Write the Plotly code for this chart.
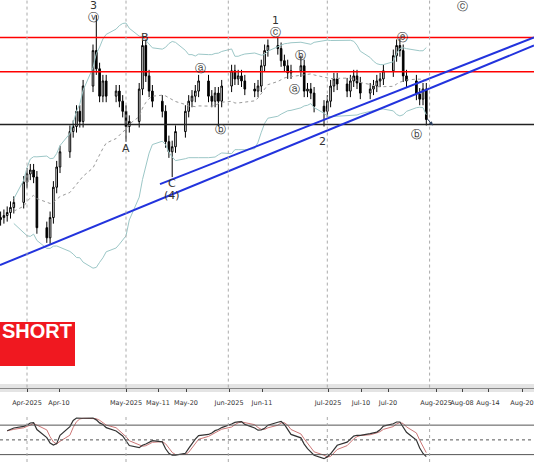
import pandas as pd
import plotly.graph_objects as go
from plotly.subplots import make_subplots

# price scale: price = 120 - pixel_y / 10
dates = pd.bdate_range("2025-03-24", "2025-07-31")
closes = [
    98.5, 98.7, 99.0, 99.5, 100.0,
    102.0, 102.8, 103.2, 102.5, 97.5,
    96.5, 98.5, 101.5, 103.5, 105.0,
    107.0, 107.5, 109.0, 108.0, 111.5,
    115.0, 113.2, 110.5, 112.0, 110.5,
    111.0, 110.0, 109.0, 107.5, 108.0,
    111.2, 115.5, 112.5, 111.0, 110.0,
    109.0, 106.0, 105.0, 105.5, 107.0,
    109.0, 110.0, 110.5, 111.0, 112.0,
    110.5, 110.0, 110.8, 110.0, 111.5,
    113.0, 112.2, 112.5, 112.0, 111.2,
    111.0, 111.5, 113.5, 115.0, 115.5,
    115.2, 114.0, 113.5, 112.8, 113.0,
    113.5, 111.0, 111.2, 110.8, 109.5,
    109.0, 110.0, 111.5, 112.2, 111.7,
    111.0, 112.0, 112.5, 111.8, 110.8,
    111.2, 111.5, 112.0, 112.2, 113.0,
    114.5, 115.5, 115.0, 112.5, 112.0,
    110.7, 110.2, 111.2, 108.2,
]
dates = dates[:len(closes)]
opens = [98.3] + closes[:-1]
highs = [max(o, c) + 0.6 for o, c in zip(opens, closes)]
lows = [min(o, c) - 0.6 for o, c in zip(opens, closes)]
# a few long wicks seen in the picture
wick_high = {"2025-04-22": 118.5, "2025-05-06": 116.0, "2025-06-16": 116.3, "2025-07-23": 116.2,
             "2025-06-23": 114.5}
wick_low = {"2025-04-07": 96.0, "2025-05-01": 106.0, "2025-05-15": 102.5, "2025-05-29": 107.5,
            "2025-06-30": 107.5}
for i, d in enumerate(dates.strftime("%Y-%m-%d")):
    if d in wick_high:
        highs[i] = wick_high[d]
    if d in wick_low:
        lows[i] = wick_low[d]

# tick label spots (pixel x)
tick_px = [27, 59, 126, 158, 186, 229, 262, 328, 361, 388, 436, 462, 488, 522]
tick_text = ["Apr-2025", "Apr-10", "May-2025", "May-11", "May-20", "Jun-2025", "Jun-11", "Jul-2025",
             "Jul-10", "Jul-20", "Aug-2025", "Aug-08", "Aug-14", "Aug-20"]
month_lines = ["2025-04-01", "2025-05-01", "2025-06-01", "2025-07-01", "2025-08-01"]


def px_date(x):
    return pd.Timestamp("2025-04-01") + pd.Timedelta(days=(x - 27) / 3.3)


def px_price(y):
    return 120 - y / 10


s = pd.Series(closes, index=dates)
mid = s.rolling(20, min_periods=5).mean()
sd = s.rolling(20, min_periods=5).std()
hi = pd.Series(highs, index=dates).rolling(14, min_periods=3).max()
lo = pd.Series(lows, index=dates).rolling(14, min_periods=3).min()
k = ((s - lo) / (hi - lo) * 100).rolling(5, min_periods=1).mean()
dd = k.rolling(3, min_periods=1).mean()

fig = make_subplots(rows=2, cols=1, shared_xaxes=True, row_heights=[0.83, 0.1], vertical_spacing=0.06)

fig.add_trace(go.Candlestick(x=dates, open=opens, high=highs, low=lows, close=closes,
                             increasing=dict(line=dict(color="black", width=1), fillcolor="white"),
                             decreasing=dict(line=dict(color="black", width=1), fillcolor="black"),
                             whiskerwidth=0), row=1, col=1)
band = dict(color="#9cc7c7", width=1)
fig.add_trace(go.Scatter(x=dates, y=mid + 2 * sd, mode="lines", line=band), row=1, col=1)
fig.add_trace(go.Scatter(x=dates, y=mid - 2 * sd, mode="lines", line=band), row=1, col=1)
fig.add_trace(go.Scatter(x=dates, y=mid, mode="lines", line=dict(color="#999", width=1, dash="dot")),
              row=1, col=1)
fig.add_trace(go.Scatter(x=dates, y=dd, mode="lines", line=dict(color="#c77", width=1)), row=2, col=1)
fig.add_trace(go.Scatter(x=dates, y=k, mode="lines", line=dict(color="#333", width=1.2)), row=2, col=1)

x0, x1 = px_date(0), px_date(534)
for y, c in [(37, "red"), (71, "red"), (123, "#222")]:
    fig.add_shape(type="line", x0=x0, x1=x1, y0=px_price(y), y1=px_price(y), line=dict(color=c, width=1.5),
                  row=1, col=1)
for (ax, ay, bx, by) in [(0, 262, 534, 45), (160, 182, 534, 37)]:
    fig.add_shape(type="line", x0=px_date(ax), y0=px_price(ay), x1=px_date(bx), y1=px_price(by),
                  line=dict(color="#2233dd", width=2), row=1, col=1)
for y, dash in [(80, "solid"), (50, "dot"), (20, "solid")]:
    fig.add_shape(type="line", x0=x0, x1=x1, y0=y, y1=y, line=dict(color="#555", width=1, dash=dash),
                  row=2, col=1)
for m in month_lines:
    for r in (1, 2):
        fig.add_shape(type="line", x0=m, x1=m, y0=0, y1=1, yref="y domain" if r == 1 else "y2 domain",
                      line=dict(color="#aaa", width=1, dash="dot"), row=r, col=1)
# light grey strip under the price panel
fig.add_shape(type="rect", xref="paper", yref="paper", x0=0, x1=1, y0=1 - 392 / 462, y1=1 - 384 / 462,
              fillcolor="#e4e4e4", line_width=0, layer="below")

labels = [("3", 93, 5), ("ⓥ", 93, 17), ("B", 145, 37), ("A", 126, 147), ("C", 172, 181), ("(4)", 172, 193),
          ("1", 275, 20), ("ⓒ", 275, 32), ("ⓐ", 200, 68), ("ⓑ", 220, 128), ("ⓐ", 294, 88), ("ⓑ", 300, 55),
          ("2", 322, 140), ("ⓔ", 402, 37), ("ⓑ", 416, 133), ("ⓒ", 462, 6)]
for t, x, y in labels:
    fig.add_annotation(x=px_date(x), y=px_price(y), text=t, showarrow=False, font=dict(size=11, color="#333"),
                       row=1, col=1)
fig.add_annotation(x=px_date(433), y=px_price(124), ax=px_date(426), ay=px_price(116), axref="x", ayref="y",
                   showarrow=True, arrowhead=2, arrowsize=0.8, arrowwidth=1, text="", row=1, col=1)
fig.add_shape(type="rect", xref="paper", yref="paper", x0=0, x1=75 / 534, y0=1 - 366 / 462, y1=1 - 322 / 462,
              fillcolor="#f01820", line_width=0)
fig.add_annotation(xref="paper", yref="paper", x=0, y=1 - 344 / 462, xanchor="left", text="<b>SHORT</b>",
                   showarrow=False, font=dict(size=20, color="white", family="Liberation Sans"))

fig.update_xaxes(range=[x0, x1], showgrid=False, rangeslider_visible=False,
                 tickvals=[px_date(p) for p in tick_px], ticktext=tick_text,
                 tickfont=dict(size=6.5, color="#333"), tickangle=0, ticks="outside",
                 ticklen=3, ticklabelstandoff=6, showline=True, linecolor="#888", automargin=False)
fig.update_xaxes(showticklabels=True, row=1, col=1)
fig.update_xaxes(showticklabels=False, row=2, col=1)
fig.update_yaxes(range=[px_price(383), px_price(0)], showticklabels=False, showgrid=False, zeroline=False,
                 automargin=False, row=1, col=1)
fig.update_yaxes(range=[5, 100], showticklabels=False, showgrid=False, zeroline=False, automargin=False,
                 row=2, col=1)
fig.update_layout(width=534, height=462, margin=dict(l=0, r=0, t=0, b=0, autoexpand=False), showlegend=False,
                  plot_bgcolor="white", paper_bgcolor="white", font=dict(family="DejaVu Sans"))
fig.write_html("out.html", config={"displayModeBar": False},
               post_script="document.body.style.margin='0';document.body.style.overflow='hidden';")
